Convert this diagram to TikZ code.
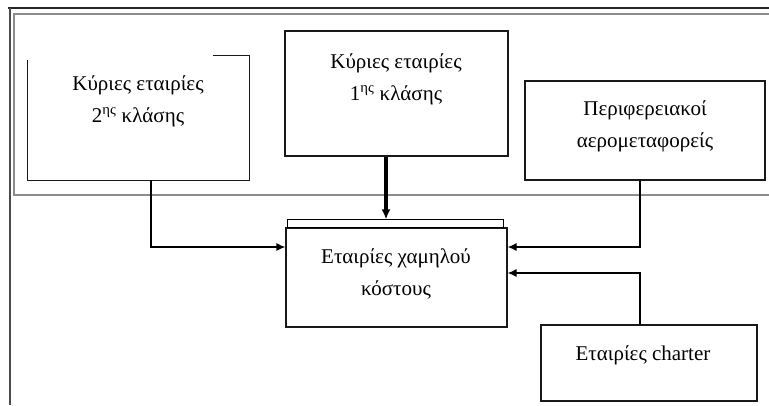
\documentclass[tikz,border=0pt]{standalone}
\usepackage{fontspec}
\setmainfont{Liberation Serif}
\usetikzlibrary{calc,arrows.meta}

\tikzset{
	boxline/.style={line width=1.2pt, color=black!90},
	box/.style={boxline, draw, inner sep=0pt},
	boxtext/.style={align=center, inner sep=0pt, font=\fontsize{21}{32}\selectfont},
	link/.style={line width=1.2pt, -{Latex[length=9pt,width=8pt]}},
	biglink/.style={line width=3.4pt, -{Latex[length=10pt,width=9pt]}},
	frameline/.style={line width=1.2pt, color=black!45}
}

\begin{document}
\begin{tikzpicture}[x=1pt,y=-1pt]
			%%%%% START %%%%%
			\useasboundingbox (0,0) rectangle (769,405);
			
			\draw[line width=1.3pt, color=black!85] (8,8) -- (769,8);
			\draw[line width=1.3pt, color=black!70] (10,8) -- (10,405);
			\draw[frameline] (769,14) -- (14,14) -- (14,195) -- (769,195);
			
			\node[box, minimum width=223pt, minimum height=125pt] (first) at (396.5,93.5) {};
			\node[boxtext] (firsttext) at (396,79) {Κύριες εταιρίες\\1\textsuperscript{ης} κλάσης};
			
			\node[inner sep=0pt, minimum width=221pt, minimum height=124pt] (second) at (138.5,118) {};
			\draw[boxline] ([yshift=-4pt]second.north west) -- (second.south west) -- (second.south east) -- (second.north east) -- ([xshift=-36pt]second.north east);
			\node[boxtext] (secondtext) at (138,101) {Κύριες εταιρίες\\2\textsuperscript{ης} κλάσης};
			
			\node[box, minimum width=240pt, minimum height=99pt] (periph) at (645,130.5) {};
			\node[boxtext] (periphtext) at (645,126) {Περιφερειακοί\\αερομεταφορείς};
			
			\node[box, minimum width=221pt, minimum height=99pt] (low) at (396.5,277.5) {};
			\draw[line width=1pt] ([xshift=2pt]low.north west) rectangle ([xshift=-4pt,yshift=8pt]low.north east);
			\node[boxtext] (lowtext) at (396,274) {Εταιρίες χαμηλού\\κόστους};
			
			\node[box, minimum width=216pt, minimum height=76pt] (charter) at (649,363) {};
			\node[boxtext] (chartertext) at (643,355) {Εταιρίες charter};
			
			\draw[link] ([xshift=12.5pt]second.south) |- ([yshift=30.5pt]low.west);
			\draw[link] ([xshift=-5pt]periph.south) |- ([yshift=30.5pt]low.east);
			\draw[link] ([xshift=-9pt]charter.north) |- ([yshift=4.5pt]low.east);
			\draw[biglink] ([xshift=-10.5pt]first.south) -- ([xshift=-10.5pt,yshift=8pt]low.north);
			
			%%%%% END %%%%%
\end{tikzpicture}
\end{document}
